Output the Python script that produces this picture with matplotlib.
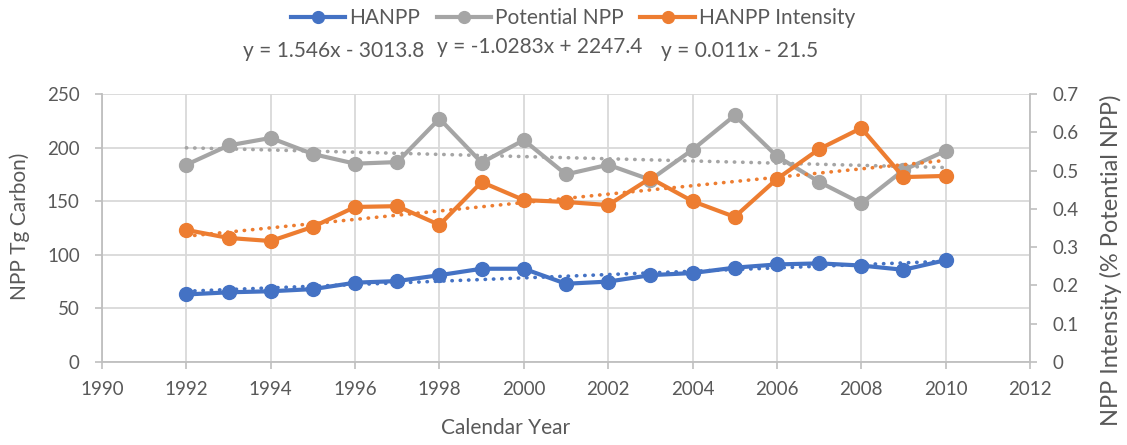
import matplotlib.pyplot as plt
import numpy as np

plt.rcParams['font.family'] = ['Lato', 'DejaVu Sans']

years = np.arange(1992, 2011)
hanpp = [63, 65, 66, 68, 74, 75.5, 81, 87, 87, 73, 75, 81, 83, 88, 91, 92, 90, 86, 95]
potential_npp = [184, 202, 209, 194, 185, 186.5, 227, 186, 207, 175, 184, 170, 198, 230, 192, 168, 148, 179, 197]
intensity = [0.345, 0.324, 0.316, 0.353, 0.405, 0.407, 0.358, 0.47, 0.423, 0.418, 0.41,
             0.48, 0.42, 0.379, 0.478, 0.556, 0.611, 0.483, 0.486]
equations = ["y = 1.546x - 3013.8", "y = -1.0283x + 2247.4", "y = 0.011x - 21.5"]

blue = "#4472C4"
gray = "#A5A5A5"
orange = "#ED7D31"
txt = "#595959"
grid = "#D9D9D9"

fig = plt.figure(figsize=(11.27, 4.45), dpi=100)
ax = fig.add_axes([102 / 1127, 1 - 362 / 445, (1030 - 102) / 1127, (362 - 94) / 445])
ax2 = ax.twinx()

def trend(ax_, y, color):
    c = np.polyfit(years, y, 1)
    ax_.plot(years, np.polyval(c, years), color=color, lw=2.6, ls=(0, (0.1, 2.2)),
             dash_capstyle='round', zorder=3)

l1, = ax.plot(years, hanpp, color=blue, lw=3, marker='o', ms=10, zorder=4, label="HANPP")
l2, = ax.plot(years, potential_npp, color=gray, lw=3, marker='o', ms=10, zorder=4, label="Potential NPP")
trend(ax, hanpp, blue)
trend(ax, potential_npp, gray)
l3, = ax2.plot(years, intensity, color=orange, lw=3, marker='o', ms=10, zorder=4, label="HANPP Intensity")
trend(ax2, intensity, orange)

ax.set_xlim(1990, 2012)
ax.set_ylim(0, 250)
ax2.set_ylim(0, 0.7)
ax.set_xticks(range(1990, 2013, 2))
ax.set_yticks(range(0, 251, 50))
ax2.set_yticks(np.arange(0, 0.71, 0.1))
ax2.set_yticklabels(["0"] + [f"{v:.1f}" for v in np.arange(0.1, 0.71, 0.1)])

ax.grid(True, color=grid, lw=1.3)
ax.set_axisbelow(True)
for a in (ax, ax2):
    for s in a.spines.values():
        s.set_visible(False)
    a.tick_params(colors=txt, labelsize=13.5, length=5, width=1.2, color="#BFBFBF")
ax.spines['left'].set_visible(True)
ax.spines['bottom'].set_visible(True)
ax2.spines['right'].set_visible(True)
for s in (ax.spines['left'], ax.spines['bottom'], ax2.spines['right']):
    s.set_color("#BFBFBF")
    s.set_linewidth(1.3)
ax.tick_params(axis='y', pad=11)
ax2.tick_params(axis='y', pad=11)
ax.tick_params(axis='x', pad=9)

fig.text(20 / 1127, 1 - 226 / 445, "NPP Tg Carbon)", rotation=90, ha='center', va='center',
         fontsize=15, color=txt)
fig.text(1111 / 1127, 1 - 94 / 445, "NPP Intensity (% Potential NPP)", rotation=90,
         ha='center', va='top', fontsize=17, color=txt)
fig.text(506 / 1127, 1 - 428 / 445, "Calendar Year", ha='center', va='center',
         fontsize=15, color=txt)

fig.legend(handles=[l1, l2, l3], loc='center', bbox_to_anchor=(573 / 1127, 1 - 18 / 445),
           ncol=3, frameon=False, fontsize=15, labelcolor=txt, handlelength=2.6,
           columnspacing=0.8, handletextpad=0.2, markerscale=0.85)

eq_x = [334, 540, 740]
eq_y = [51, 47, 51]
for x, yy, e in zip(eq_x, eq_y, equations):
    fig.text(x / 1127, 1 - yy / 445, e, ha='center', va='center', fontsize=15, color=txt)

fig.savefig("out.png", dpi=100)
